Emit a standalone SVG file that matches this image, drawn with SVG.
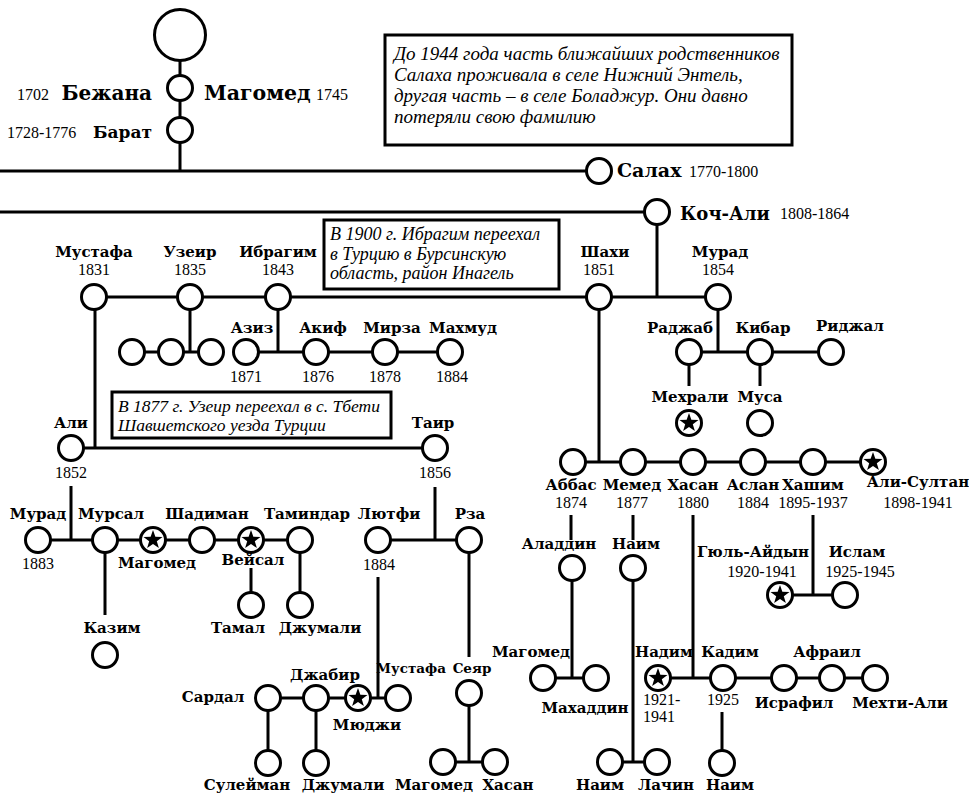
<svg xmlns="http://www.w3.org/2000/svg" width="969" height="795" viewBox="0 0 969 795">
<style>
.c{fill:#fff;stroke:#000;stroke-width:3}
.l{fill:none;stroke:#000;stroke-width:3}
.box{fill:#fff;stroke:#000;stroke-width:3}
.n{font-family:"DejaVu Serif",serif;font-weight:bold;font-size:15px;fill:#000;text-anchor:middle}
.s{font-size:13.5px}
.b{font-family:"DejaVu Serif",serif;font-weight:bold;font-size:19px;fill:#000}
.e{text-anchor:end}
.y{font-family:"Liberation Serif",serif;font-size:16px;fill:#000;text-anchor:middle}
.ys{font-family:"Liberation Serif",serif;font-size:16px;fill:#000}
.note{font-family:"Liberation Serif",serif;font-style:italic;font-size:17.5px;fill:#000}
.n1{font-size:19px}
.n2{font-size:18px}
</style>
<defs>
<polygon id="star" points="0,-10 2.35,-3.24 9.51,-3.09 3.80,1.24 5.88,8.09 0,4 -5.88,8.09 -3.80,1.24 -9.51,-3.09 -2.35,-3.24" fill="#000"/>
</defs>
<rect width="969" height="795" fill="#fff"/>
<g id="connectors">
<path class="l" d="M180 60V171M0 171H587M0 212H645M657 212V297M94 297H718M190 297V352M132 352H211M278 297V352M246 352H450M95 297V448M71 448H435M718 297V352M689 352H831M689 352V386M760 352V386M599 297V462M573 462H873M71 486V540M38 540H300M105 540V615M251 568V605M300 540V605M435 487V540M378 540H469M378 577V698M268 698H398M268 698V763M316 698V763M469 540V657M469 693V762M443 762H495M571 515V540M633 515V540M572 568V678M543 678H596M633 568V762M610 762H657M693 515V678M658 678H875M813 515V595M780 595H845M722 712V763"/>
</g>
<g id="note1"><rect class="box" x="385" y="35" width="407" height="110"/>
<text class="note n1" x="394" y="60">До 1944 года часть ближайших родственников</text>
<text class="note n1" x="394" y="81">Салаха проживала в селе Нижний Энтель,</text>
<text class="note n1" x="394" y="102">другая часть – в селе Боладжур. Они давно</text>
<text class="note n1" x="394" y="123">потеряли свою фамилию</text></g>
<g id="note2"><rect class="box" x="324" y="220" width="235" height="69"/>
<text class="note n2" x="330" y="240">В 1900 г. Ибрагим переехал</text>
<text class="note n2" x="330" y="260">в Турцию в Бурсинскую</text>
<text class="note n2" x="330" y="279">область, район Инагель</text></g>
<g id="note3"><rect class="box" x="112" y="392" width="279" height="46"/>
<text class="note" x="118" y="412">В 1877 г. Узеир переехал в с. Тбети</text>
<text class="note" x="118" y="431">Шавшетского уезда Турции</text></g>

<g id="n-top"><circle class="c" cx="180" cy="35" r="25.5"/></g>
<g id="n-bezhana"><circle class="c" cx="180" cy="88" r="12.5"/><text class="ys" x="17" y="100">1702</text><text class="b e" x="152" y="100" style="font-size:20px">Бежана</text><text class="b" x="204" y="100" style="font-size:20.5px">Магомед</text><text class="ys" x="316" y="100">1745</text></g>
<g id="n-barat"><circle class="c" cx="180" cy="130" r="12.5"/><text class="ys" x="7" y="138">1728-1776</text><text class="b e" x="152" y="138" style="font-size:17px">Барат</text></g>
<g id="n-salah"><circle class="c" cx="599" cy="171" r="12.5"/><text class="b" x="617" y="177">Салах</text><text class="ys" x="689" y="177">1770-1800</text></g>
<g id="n-kochali"><circle class="c" cx="657" cy="212" r="12.5"/><text class="b" x="680" y="220" style="font-size:18px">Коч-Али</text><text class="ys" x="780" y="219">1808-1864</text></g>

<g id="n-mustafa"><circle class="c" cx="94" cy="297" r="12.5"/><text class="n" x="94" y="257">Мустафа</text><text class="y" x="94" y="275">1831</text></g>
<g id="n-uzeir"><circle class="c" cx="190" cy="297" r="12.5"/><text class="n" x="190" y="257">Узеир</text><text class="y" x="190" y="275">1835</text></g>
<g id="n-ibragim"><circle class="c" cx="278" cy="297" r="12.5"/><text class="n" x="278" y="257">Ибрагим</text><text class="y" x="278" y="275">1843</text></g>
<g id="n-shahi"><circle class="c" cx="599" cy="297" r="12.5"/><text class="n" x="605" y="257">Шахи</text><text class="y" x="599" y="275">1851</text></g>
<g id="n-murad"><circle class="c" cx="718" cy="297" r="12.5"/><text class="n" x="720" y="257">Мурад</text><text class="y" x="718" y="275">1854</text></g>

<g id="n-u1"><circle class="c" cx="132" cy="352" r="12.5"/></g>
<g id="n-u2"><circle class="c" cx="171" cy="352" r="12.5"/></g>
<g id="n-u3"><circle class="c" cx="211" cy="352" r="12.5"/></g>
<g id="n-aziz"><circle class="c" cx="246" cy="352" r="12.5"/><text class="n" x="252" y="333">Азиз</text><text class="y" x="246" y="382">1871</text></g>
<g id="n-akif"><circle class="c" cx="316" cy="352" r="12.5"/><text class="n" x="323" y="333">Акиф</text><text class="y" x="318" y="382">1876</text></g>
<g id="n-mirza"><circle class="c" cx="385" cy="352" r="12.5"/><text class="n" x="392" y="333">Мирза</text><text class="y" x="385" y="382">1878</text></g>
<g id="n-mahmud"><circle class="c" cx="450" cy="352" r="12.5"/><text class="n" x="463" y="333">Махмуд</text><text class="y" x="452" y="382">1884</text></g>

<g id="n-radzhab"><circle class="c" cx="689" cy="352" r="12.5"/><text class="n" x="680" y="333">Раджаб</text></g>
<g id="n-kibar"><circle class="c" cx="760" cy="352" r="12.5"/><text class="n" x="763" y="333">Кибар</text></g>
<g id="n-ridzhal"><circle class="c" cx="831" cy="352" r="12.5"/><text class="n" x="850" y="331">Риджал</text></g>
<g id="n-mehrali"><circle class="c" cx="689" cy="423" r="12.5"/><use href="#star" x="689" y="423"/><text class="n" x="690" y="402">Мехрали</text></g>
<g id="n-musa"><circle class="c" cx="760" cy="423" r="12.5"/><text class="n" x="760" y="402">Муса</text></g>

<g id="n-ali"><circle class="c" cx="71" cy="448" r="12.5"/><text class="n" x="71" y="428">Али</text><text class="y" x="71" y="478">1852</text></g>
<g id="n-tair"><circle class="c" cx="435" cy="448" r="12.5"/><text class="n" x="433" y="428">Таир</text><text class="y" x="435" y="478">1856</text></g>

<g id="n-abbas"><circle class="c" cx="573" cy="462" r="12.5"/><text class="n" x="571" y="490">Аббас</text><text class="y" x="571" y="508">1874</text></g>
<g id="n-memed"><circle class="c" cx="633" cy="462" r="12.5"/><text class="n" x="632" y="490">Мемед</text><text class="y" x="632" y="508">1877</text></g>
<g id="n-hasan"><circle class="c" cx="693" cy="462" r="12.5"/><text class="n" x="693" y="490">Хасан</text><text class="y" x="693" y="508">1880</text></g>
<g id="n-aslan"><circle class="c" cx="753" cy="462" r="12.5"/><text class="n" x="753" y="490">Аслан</text><text class="y" x="753" y="508">1884</text></g>
<g id="n-hashim"><circle class="c" cx="813" cy="462" r="12.5"/><text class="n" x="813" y="490">Хашим</text><text class="y" x="813" y="508">1895-1937</text></g>
<g id="n-alisultan"><circle class="c" cx="873" cy="462" r="12.5"/><use href="#star" x="873" y="462"/><text class="n" x="918" y="487">Али-Султан</text><text class="y" x="918" y="508">1898-1941</text></g>

<g id="n-murad2"><circle class="c" cx="38" cy="540" r="12.5"/><text class="n" x="38" y="519">Мурад</text><text class="y" x="38" y="569">1883</text></g>
<g id="n-mursal"><circle class="c" cx="105" cy="540" r="12.5"/><text class="n" x="111" y="519">Мурсал</text></g>
<g id="n-magomed2"><circle class="c" cx="153" cy="540" r="12.5"/><use href="#star" x="153" y="540"/><text class="n" x="157" y="568">Магомед</text></g>
<g id="n-shadiman"><circle class="c" cx="202" cy="540" r="12.5"/><text class="n" x="207" y="519">Шадиман</text></g>
<g id="n-veisal"><circle class="c" cx="251" cy="540" r="12.5"/><use href="#star" x="251" y="540"/><text class="n" x="253" y="565">Вейсал</text></g>
<g id="n-tamindar"><circle class="c" cx="300" cy="540" r="12.5"/><text class="n" x="307" y="519">Таминдар</text></g>
<g id="n-kazim"><circle class="c" cx="105" cy="655" r="12.5"/><text class="n" x="112" y="633">Казим</text></g>
<g id="n-tamal"><circle class="c" cx="251" cy="605" r="12.5"/><text class="n" x="238" y="633">Тамал</text></g>
<g id="n-dzhumali"><circle class="c" cx="300" cy="605" r="12.5"/><text class="n" x="320" y="633">Джумали</text></g>

<g id="n-lutfi"><circle class="c" cx="378" cy="540" r="12.5"/><text class="n" x="389" y="519">Лютфи</text><text class="y" x="379" y="570">1884</text></g>
<g id="n-rza"><circle class="c" cx="469" cy="540" r="12.5"/><text class="n" x="470" y="519">Рза</text></g>

<g id="n-sardal"><circle class="c" cx="268" cy="698" r="12.5"/><text class="n" x="213" y="702">Сардал</text></g>
<g id="n-dzhabir"><circle class="c" cx="316" cy="698" r="12.5"/><text class="n" x="325" y="680">Джабир</text></g>
<g id="n-mudzhi"><circle class="c" cx="358" cy="698" r="12.5"/><use href="#star" x="358" y="698"/><text class="n" x="367" y="730">Мюджи</text></g>
<g id="n-mustafa2"><circle class="c" cx="398" cy="698" r="12.5"/><text class="n s" x="411" y="673">Мустафа</text></g>
<g id="n-seyar"><circle class="c" cx="469" cy="693" r="12.5"/><text class="n s" x="472" y="673">Сеяр</text></g>
<g id="n-suleiman"><circle class="c" cx="268" cy="763" r="12.5"/><text class="n" x="247" y="790">Сулейман</text></g>
<g id="n-dzhumali2"><circle class="c" cx="316" cy="763" r="12.5"/><text class="n" x="343" y="790">Джумали</text></g>
<g id="n-magomed3"><circle class="c" cx="443" cy="762" r="12.5"/><text class="n" x="434" y="790">Магомед</text></g>
<g id="n-hasan2"><circle class="c" cx="495" cy="762" r="12.5"/><text class="n" x="508" y="790">Хасан</text></g>

<g id="n-aladdin"><circle class="c" cx="572" cy="568" r="12.5"/><text class="n" x="559" y="549">Аладдин</text></g>
<g id="n-naim"><circle class="c" cx="633" cy="568" r="12.5"/><text class="n" x="636" y="549">Наим</text></g>
<g id="n-magomed4"><circle class="c" cx="543" cy="678" r="12.5"/><text class="n" x="531" y="657">Магомед</text></g>
<g id="n-mahaddin"><circle class="c" cx="596" cy="678" r="12.5"/><text class="n" x="585" y="713">Махаддин</text></g>
<g id="n-naim2"><circle class="c" cx="610" cy="762" r="12.5"/><text class="n" x="600" y="790">Наим</text></g>
<g id="n-lachin"><circle class="c" cx="657" cy="762" r="12.5"/><text class="n" x="666" y="790">Лачин</text></g>

<g id="n-gulaidyn"><circle class="c" cx="780" cy="595" r="12.5"/><use href="#star" x="780" y="595"/><text class="n" x="753" y="557">Гюль-Айдын</text><text class="y" x="762" y="577">1920-1941</text></g>
<g id="n-islam"><circle class="c" cx="845" cy="595" r="12.5"/><text class="n" x="857" y="557">Ислам</text><text class="y" x="860" y="577">1925-1945</text></g>

<g id="n-nadim"><circle class="c" cx="658" cy="678" r="12.5"/><use href="#star" x="658" y="678"/><text class="n" x="664" y="657">Надим</text><text class="ys" x="643" y="705">1921-</text><text class="ys" x="643" y="722">1941</text></g>
<g id="n-kadim"><circle class="c" cx="723" cy="678" r="12.5"/><text class="n" x="730" y="657">Кадим</text><text class="y" x="723" y="705">1925</text></g>
<g id="n-israfil"><circle class="c" cx="784" cy="678" r="12.5"/><text class="n" x="794" y="708">Исрафил</text></g>
<g id="n-afrail"><circle class="c" cx="832" cy="678" r="12.5"/><text class="n" x="827" y="657">Афраил</text></g>
<g id="n-mehtiali"><circle class="c" cx="875" cy="678" r="12.5"/><text class="n" x="900" y="708">Мехти-Али</text></g>
<g id="n-naim3"><circle class="c" cx="722" cy="763" r="12.5"/><text class="n" x="730" y="790">Наим</text></g>
</svg>
